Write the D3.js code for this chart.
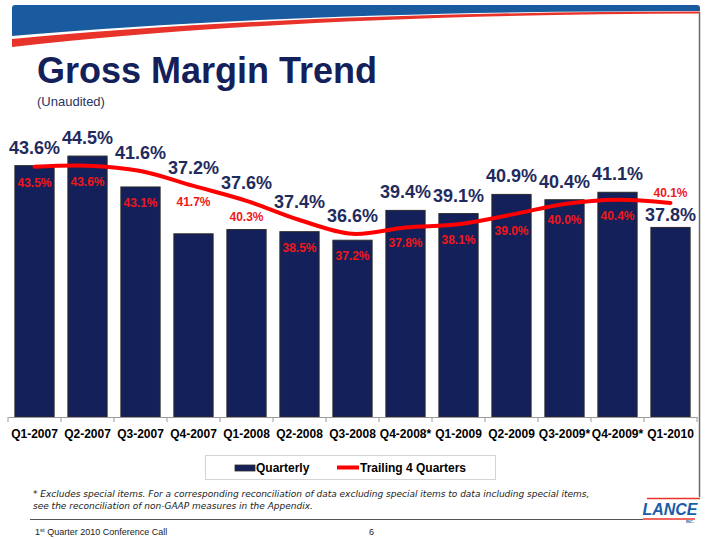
<!DOCTYPE html>
<html>
<head>
<meta charset="utf-8">
<script src="https://cdn.jsdelivr.net/npm/d3@7"></script>
<style>
  html, body { margin: 0; padding: 0; background: #fff; }
  svg { display: block; font-family: "Liberation Sans", Arial, sans-serif; }
</style>
</head>
<body>
<svg id="chart" width="720" height="539"></svg>
<script>
const categories = ["Q1-2007","Q2-2007","Q3-2007","Q4-2007","Q1-2008","Q2-2008","Q3-2008","Q4-2008*","Q1-2009","Q2-2009","Q3-2009*","Q4-2009*","Q1-2010"];
const quarterly = [43.6,44.5,41.6,37.2,37.6,37.4,36.6,39.4,39.1,40.9,40.4,41.1,37.8];
const trailing = [43.5,43.6,43.1,41.7,40.3,38.5,37.2,37.8,38.1,39.0,40.0,40.4,40.1];
const seriesNames = ["Quarterly","Trailing 4 Quarters"];
const yDomain = [20, 50];
const titleText = "Gross Margin Trend";
const subtitleText = "(Unaudited)";
const footnoteLines = [
  "* Excludes special items.  For a corresponding reconciliation of data excluding special items to data including special items,",
  "see the reconciliation of non-GAAP measures in the Appendix."
];
const footerText = "Quarter 2010 Conference Call";
const pageNumber = "6";

const svg = d3.select("#chart");
const NAVY = "#14205a";
const LABEL_NAVY = "#1f2b5e";
const RED = "#ff0000";

// Header swoosh
svg.append("path")
  .attr("d", "M12,8 Q12,5 15,5 L697,5 Q700,5 700,8 L700,11 Q300,11 12,36 Z")
  .attr("fill", "#1a5a9f");
svg.append("path")
  .attr("d", "M12,39 Q300,12 700,11.5 L700,13.5 Q300,14.5 12,47 Z")
  .attr("fill", "#e8332a");
// right border line
svg.append("line").attr("x1", 699.5).attr("x2", 699.5).attr("y1", 12).attr("y2", 497)
  .attr("stroke", "#6a6a6a").attr("stroke-width", 1.5);

// Title
svg.append("text").attr("x", 37).attr("y", 83).text(titleText)
  .attr("font-size", 36).attr("font-weight", "bold").attr("fill", NAVY);
svg.append("text").attr("x", 37).attr("y", 106).text(subtitleText)
  .attr("font-size", 13).attr("fill", "#2a3560");

// Scales
const x = d3.scaleBand().domain(categories).range([8, 697]).paddingInner(0.26).paddingOuter(0.13);
const y = d3.scaleLinear().domain(yDomain).range([417, 97.5]);

const data = categories.map((c, i) => ({ cat: c, q: quarterly[i], t: trailing[i], i }));
const last = data.length - 1;

// Bars
svg.append("g").selectAll("rect").data(data).join("rect")
  .attr("x", d => x(d.cat))
  .attr("y", d => y(d.q))
  .attr("width", x.bandwidth())
  .attr("height", d => y(yDomain[0]) - y(d.q))
  .attr("fill", NAVY)
  .attr("stroke", "#2b2b2b")
  .attr("stroke-width", 1);

// Axis
const axis = d3.axisBottom(x).tickSize(0).tickPadding(0);
const gAxis = svg.append("g").attr("transform", `translate(0,${y(yDomain[0])})`).call(axis);
gAxis.select(".domain").attr("stroke", "#9a9a9a").attr("stroke-width", 1);
gAxis.selectAll(".tick text").attr("dy", null).attr("y", 21)
  .attr("font-size", 12).attr("font-weight", "bold").attr("fill", "#000")
  .attr("font-family", "'Liberation Sans', Arial, sans-serif");
// category boundary tick marks
const bounds = categories.map(c => x(c) - x.step() * x.paddingInner() / 2).concat([x.range()[1]]);
bounds[0] = x.range()[0];
gAxis.selectAll(".bnd").data(bounds).join("line").attr("class", "bnd")
  .attr("x1", d => d).attr("x2", d => d).attr("y1", 0).attr("y2", 5)
  .attr("stroke", "#9a9a9a");

// Trailing line
const cx = d => x(d.cat) + x.bandwidth() / 2;
const line = d3.line().x(cx).y(d => y(d.t)).curve(d3.curveCatmullRom.alpha(0.5));
svg.append("path").datum(data).attr("d", line)
  .attr("fill", "none").attr("stroke", RED).attr("stroke-width", 4)
  .attr("stroke-linejoin", "round").attr("stroke-linecap", "round");

const fmt = v => d3.format(".1f")(v) + "%";

// Quarterly labels
svg.append("g").selectAll("text").data(data).join("text")
  .attr("x", cx)
  .attr("y", d => {
    if (d.i === last) return y(d.q) - 6;
    return Math.min(y(d.q), y(d.t)) - 12;
  })
  .attr("text-anchor", "middle")
  .attr("font-size", 18).attr("font-weight", "bold").attr("fill", LABEL_NAVY)
  .text(d => fmt(d.q));

// Trailing labels
svg.append("g").selectAll("text").data(data).join("text")
  .attr("x", cx)
  .attr("y", d => {
    const yb = y(d.q), yl = y(d.t);
    if (d.i === last) return yl - 6;
    if (yb - yl > 25) return yl + 20;
    return Math.max(yb, yl) + 20;
  })
  .attr("text-anchor", "middle")
  .attr("font-size", 12).attr("font-weight", "bold").attr("fill", "#f01818")
  .text(d => fmt(d.t));

// Legend
const lg = svg.append("g");
lg.append("rect").attr("x", 205.5).attr("y", 455.5).attr("width", 290).attr("height", 24)
  .attr("fill", "#fff").attr("stroke", "#d4d4d4").attr("stroke-width", 1);
lg.append("rect").attr("x", 235).attr("y", 465).attr("width", 20).attr("height", 6)
  .attr("fill", NAVY).attr("stroke", "#2b2b2b").attr("stroke-width", 0.8);
lg.append("text").attr("x", 256).attr("y", 472).text(seriesNames[0])
  .attr("font-size", 12).attr("font-weight", "bold").attr("fill", "#000");
lg.append("line").attr("x1", 337).attr("x2", 359).attr("y1", 467.5).attr("y2", 467.5)
  .attr("stroke", RED).attr("stroke-width", 4);
lg.append("text").attr("x", 360).attr("y", 472).text(seriesNames[1])
  .attr("font-size", 12).attr("font-weight", "bold").attr("fill", "#000");

// Footnote
svg.append("g").selectAll("text").data(footnoteLines).join("text")
  .attr("x", 33).attr("y", (d, i) => 497 + i * 12)
  .attr("font-family", "'DejaVu Sans', Verdana, sans-serif")
  .attr("font-style", "italic").attr("font-size", 9).attr("fill", "#222")
  .text(d => d);

// Separator line
svg.append("line").attr("x1", 30).attr("x2", 643).attr("y1", 519.5).attr("y2", 519.5)
  .attr("stroke", "#555").attr("stroke-width", 1);

// Footer
const ft = svg.append("text").attr("x", 35).attr("y", 535).attr("font-size", 9).attr("fill", "#222");
ft.append("tspan").text("1");
ft.append("tspan").attr("font-size", 6).attr("dy", -3).text("st");
ft.append("tspan").attr("dy", 3).text(" " + footerText);
svg.append("text").attr("x", 369).attr("y", 535).attr("font-size", 9).attr("fill", "#222").text(pageNumber);

// Logo
const logo = svg.append("g");
logo.append("line").attr("x1", 647).attr("x2", 700).attr("y1", 498.5).attr("y2", 498.5)
  .attr("stroke", "#e8332a").attr("stroke-width", 1.5);
logo.append("text").attr("x", 670).attr("y", 515).attr("text-anchor", "middle")
  .attr("font-size", 17).attr("font-weight", "bold").attr("font-style", "italic")
  .attr("fill", "#1c5ca8").attr("textLength", 55).attr("lengthAdjust", "spacingAndGlyphs").text("LANCE");
logo.append("line").attr("x1", 643).attr("x2", 695).attr("y1", 519).attr("y2", 519)
  .attr("stroke", "#e8332a").attr("stroke-width", 1.5);
logo.append("text").attr("x", 690).attr("y", 523).attr("text-anchor", "middle")
  .attr("font-size", 4).attr("font-weight", "bold").attr("fill", "#1c5ca8").text("INC.");
</script>
</body>
</html>
